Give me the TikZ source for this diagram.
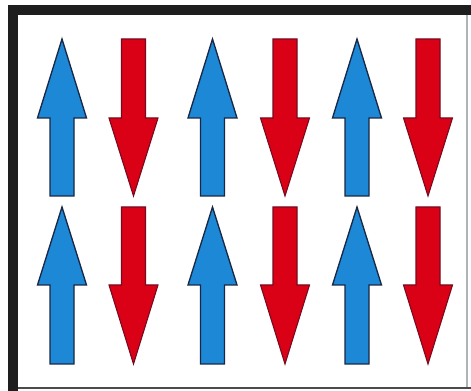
\documentclass[tikz,border=0pt]{standalone}
\definecolor{upblue}{RGB}{28,136,214}
\definecolor{upedge}{RGB}{25,40,70}
\definecolor{downred}{RGB}{218,0,22}
\definecolor{downedge}{RGB}{120,10,30}
\definecolor{framedark}{RGB}{30,30,30}
\tikzset{
  uparrow/.style={fill=upblue,draw=upedge,line width=1pt,line join=miter},
  downarrow/.style={fill=downred,draw=downedge,line width=0.8pt,line join=miter},
  framebar/.style={fill=framedark,draw=none}
}
\begin{document}
\begin{tikzpicture}[x=0.75pt,y=-0.75pt]
\useasboundingbox (0,0) rectangle (471,391);
\fill[white] (0,0) rectangle (471,391);
% frame
\fill[framebar] (8,5) rectangle (471,15);
\fill[framebar] (8,5) rectangle (18,391);
\draw[gray!60,line width=0.8pt] (467,15) -- (467,388);
\draw[framedark!80,line width=1.8pt] (18,388) -- (471,388);
% arrows
\foreach \ty/\hb/\by in {39/118/196, 207/285/364}{
  \foreach \cx in {62,212.5,357}{
    \draw[uparrow] (\cx,\ty) -- (\cx+24.5,\hb) -- (\cx+12,\hb) -- (\cx+12,\by)
      -- (\cx-12,\by) -- (\cx-12,\hb) -- (\cx-24.5,\hb) -- cycle;
  }
  \foreach \cx in {133.5,285,428}{
    \draw[downarrow] (\cx-12,\ty) -- (\cx+12,\ty) -- (\cx+12,\hb) -- (\cx+24.5,\hb)
      -- (\cx,\by) -- (\cx-24.5,\hb) -- (\cx-12,\hb) -- cycle;
  }
}
\end{tikzpicture}
\end{document}
